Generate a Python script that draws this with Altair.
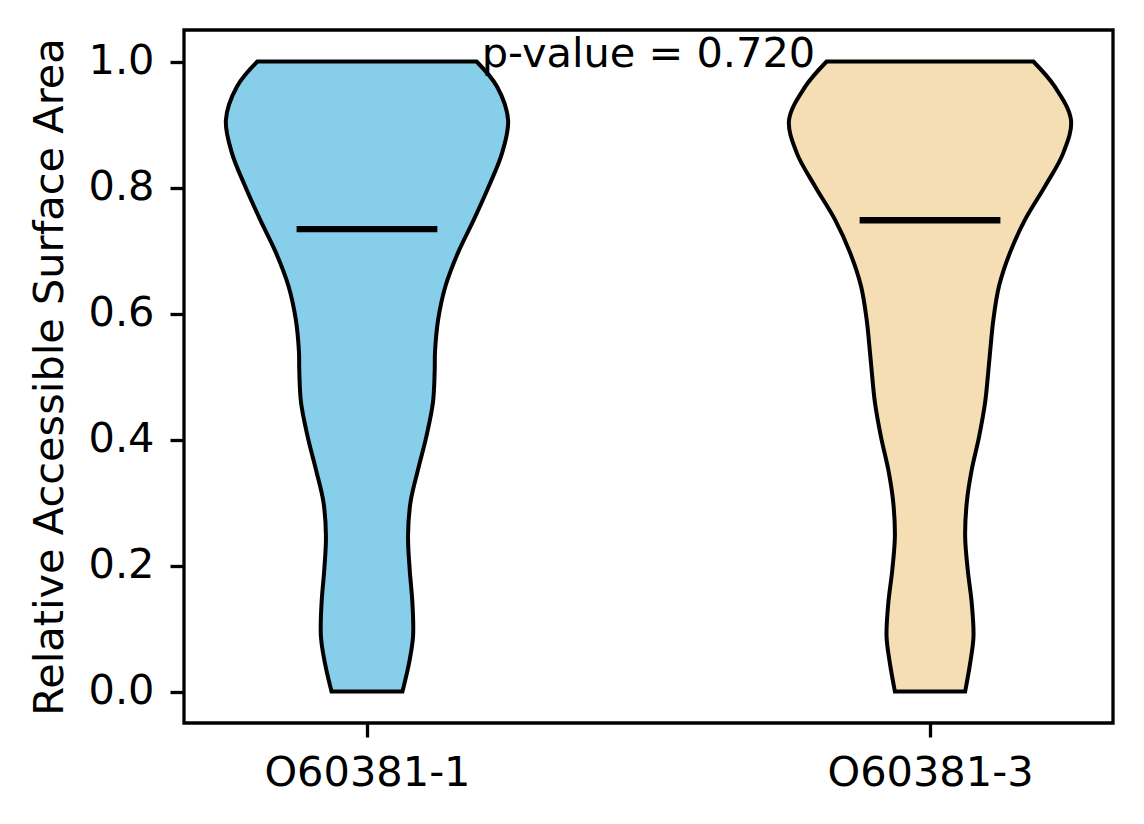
import altair as alt
import pandas as pd

# ---- data ----
categories = ["O60381-1", "O60381-3"]
positions = [1, 2]
colors = ["#87CEEB", "#F5DEB3"]

# y levels of the violin outlines
y_levels = [0.000, 0.045, 0.087, 0.140, 0.193, 0.246, 0.300, 0.352, 0.405, 0.459,
            0.511, 0.539, 0.591, 0.644, 0.697, 0.749, 0.802, 0.855, 0.907, 0.960, 1.000]

# half widths (in x-axis units) of each violin at the levels above
half_width_1 = [0.0630, 0.0747, 0.0818, 0.0807, 0.0759, 0.0729, 0.0772, 0.0906, 0.1055, 0.1172,
                0.1203, 0.1208, 0.1265, 0.1396, 0.1619, 0.1898, 0.2164, 0.2400, 0.2506, 0.2311, 0.1946]
half_width_2 = [0.0624, 0.0713, 0.0772, 0.0741, 0.0670, 0.0624, 0.0653, 0.0741, 0.0873, 0.0979,
                0.1038, 0.1067, 0.1126, 0.1227, 0.1422, 0.1688, 0.2043, 0.2368, 0.2504, 0.2217, 0.1836]

means = [0.734, 0.748]
mean_half_width = 0.125

p_text = "p-value = 0.720"
p_x = 1.5
p_y = 0.992

y_ticks = [0.0, 0.2, 0.4, 0.6, 0.8, 1.0]

FONT = "DejaVu Sans"
FS = 41.5

# ---- tables ----
rows = []
for cat, pos, hw in zip(categories, positions, [half_width_1, half_width_2]):
    for y, w in zip(y_levels, hw):
        rows.append({"group": cat, "y": y, "lo": pos - w, "hi": pos + w})
violins = pd.DataFrame(rows)

mean_df = pd.DataFrame({
    "group": categories,
    "x1": [p - mean_half_width for p in positions],
    "x2": [p + mean_half_width for p in positions],
    "y": means,
})

text_df = pd.DataFrame({"x": [p_x], "y": [p_y], "t": [p_text]})

label_expr = " : ".join(
    [f"datum.value == {p} ? '{c}'" for p, c in zip(positions, categories)]
) + " : ''"

x_scale = alt.Scale(domain=[0.675, 2.325], nice=False, zero=False)
y_scale = alt.Scale(domain=[-0.05, 1.05], nice=False, zero=False)

x_axis = alt.Axis(values=positions, labelExpr=label_expr, title=None,
                  labelPadding=15, labelLimit=0)
y_axis = alt.Axis(values=y_ticks, format=".1f",
                  title="Relative Accessible Surface Area",
                  labelPadding=16, titlePadding=17, titleLimit=0)

violin_layer = alt.Chart(violins).mark_area(
    orient="horizontal", interpolate="catmull-rom", stroke="black",
    strokeWidth=4, fillOpacity=1, strokeJoin="miter"
).encode(
    y=alt.Y("y:Q", scale=y_scale, axis=y_axis),
    x=alt.X("lo:Q", scale=x_scale, axis=x_axis),
    x2="hi:Q",
    fill=alt.Fill("group:N", scale=alt.Scale(domain=categories, range=colors), legend=None),
    detail="group:N",
)

mean_layer = alt.Chart(mean_df).mark_rule(color="black", strokeWidth=6.3).encode(
    x=alt.X("x1:Q", scale=x_scale),
    x2="x2:Q",
    y=alt.Y("y:Q", scale=y_scale),
)

text_layer = alt.Chart(text_df).mark_text(
    font=FONT, fontSize=FS, color="black", align="center", baseline="alphabetic"
).encode(
    x=alt.X("x:Q", scale=x_scale),
    y=alt.Y("y:Q", scale=y_scale),
    text="t:N",
)

chart = alt.layer(violin_layer, mean_layer, text_layer).properties(
    width=929,
    height=693,
    background="white",
    autosize=alt.AutoSizeParams(type="none"),
    padding={"left": 176, "top": 22, "right": 23, "bottom": 90},
).configure_view(
    stroke="black", strokeWidth=3.3, fill="white"
).configure_axis(
    domain=False, grid=False,
    ticks=True, tickColor="black", tickWidth=3.3, tickSize=14,
    labelFont=FONT, labelFontSize=FS, labelColor="black",
    titleFont=FONT, titleFontSize=FS, titleColor="black", titleFontWeight="normal",
)

chart.save("out.html", embed_options={"renderer": "svg", "actions": False})
